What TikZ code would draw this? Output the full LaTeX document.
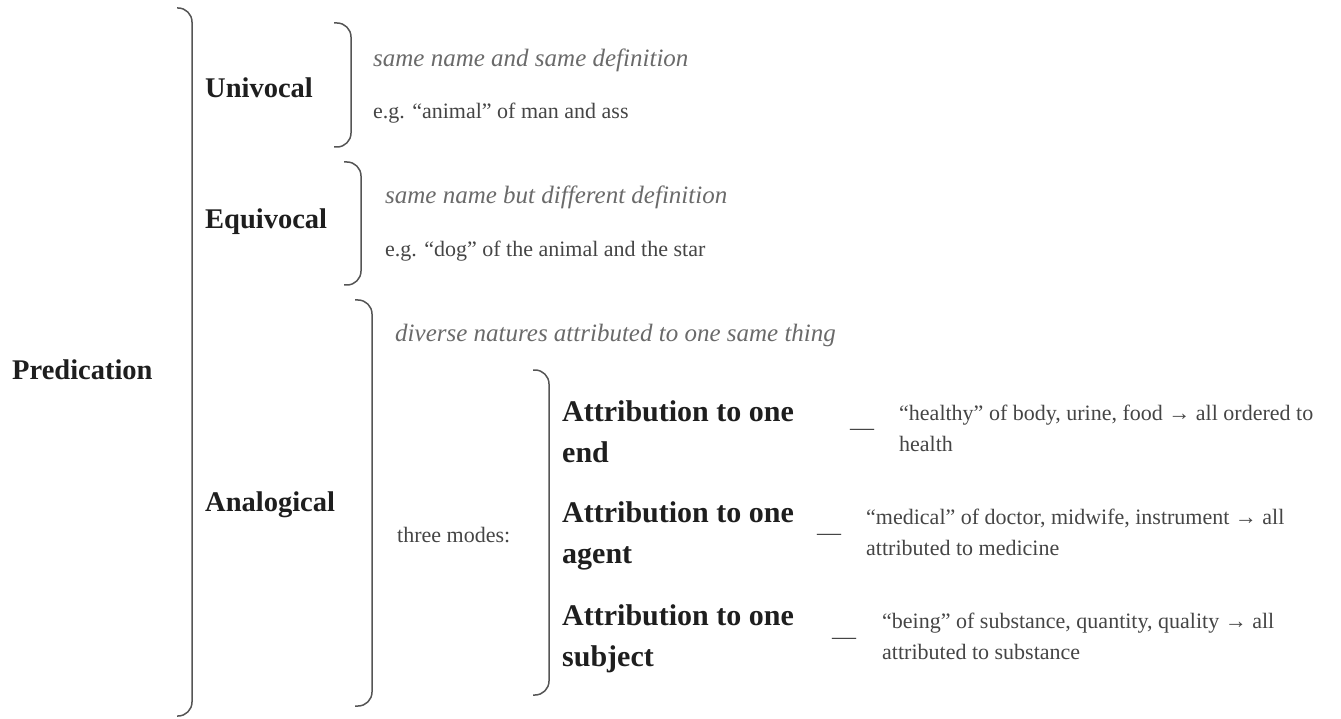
\documentclass[tikz,border=0pt]{standalone}
\usepackage{fontspec}
\setmainfont{Liberation Serif}

\definecolor{inkdark}{HTML}{1E1E1E}
\definecolor{inkgray}{HTML}{454545}
\definecolor{notegray}{HTML}{6A6A6A}
\definecolor{bracegray}{HTML}{555555}

\tikzset{
  bracket/.style={draw=bracegray, line width=1.5pt, rounded corners=14pt},
  head/.style={anchor=west, inner sep=0pt, text=inkdark, font=\bfseries\fontsize{28.5}{30}\selectfont},
  mode/.style={anchor=west, inner sep=0pt, align=left, text=inkdark, font=\bfseries\fontsize{30}{41}\selectfont},
  note/.style={anchor=west, inner sep=0pt, text=notegray, font=\itshape\fontsize{25}{26}\selectfont},
  plain/.style={anchor=west, inner sep=0pt, align=left, text=inkgray, font=\fontsize{22}{31}\selectfont},
  sepdash/.style={anchor=west, inner sep=0pt, text=inkgray, font=\fontsize{24}{26}\selectfont},
}

\begin{document}
\begin{tikzpicture}[x=1pt, y=-1pt]
    \useasboundingbox (0,0) rectangle (1341,719);

    % Root
    \node[head] (pred) at (12,370) {Predication};
    \draw[bracket] (177,8) -- (192,8) -- (192,716) -- (177,716);

    % Univocal
    \node[head] (univ) at (205,88) {Univocal};
    \draw[bracket] (334,23) -- (351,23) -- (351,147) -- (334,147);
    \node[note] (univdef) at (373,60) {same name and same definition};
    \node[plain] (univex) at (373,113) {e.g. “animal” of man and ass};

    % Equivocal
    \node[head] (equi) at (205,222) {Equivocal};
    \draw[bracket] (344,162) -- (361,162) -- (361,285) -- (344,285);
    \node[note] (equidef) at (385,197) {same name but different definition};
    \node[plain] (equiex) at (385,251) {e.g. “dog” of the animal and the star};

    % Analogical
    \node[head] (anal) at (205,505) {Analogical};
    \draw[bracket] (355,300) -- (372,300) -- (372,706) -- (355,706);
    \node[note] (analdef) at (395,335) {diverse natures attributed to one same thing};
    \node[plain] (modes) at (397,535) {three modes:};
    \draw[bracket] (533,370) -- (549,370) -- (549,695) -- (533,695);

    % Three modes of attribution
    \node[mode] (endmode) at (562,432) {Attribution to one\\end};
    \node[sepdash] (enddash) at (850,432) {—};
    \node[plain] (endex) at (899,428) {“healthy” of body, urine, food → all ordered to\\health};

    \node[mode] (agentmode) at (562,536) {Attribution to one\\agent};
    \node[sepdash] (agentdash) at (817,537) {—};
    \node[plain] (agentex) at (866,532) {“medical” of doctor, midwife, instrument → all\\attributed to medicine};

    \node[mode] (subjmode) at (562,639) {Attribution to one\\subject};
    \node[sepdash] (subjdash) at (832,641) {—};
    \node[plain] (subjex) at (882,636) {“being” of substance, quantity, quality → all\\attributed to substance};
\end{tikzpicture}
\end{document}
